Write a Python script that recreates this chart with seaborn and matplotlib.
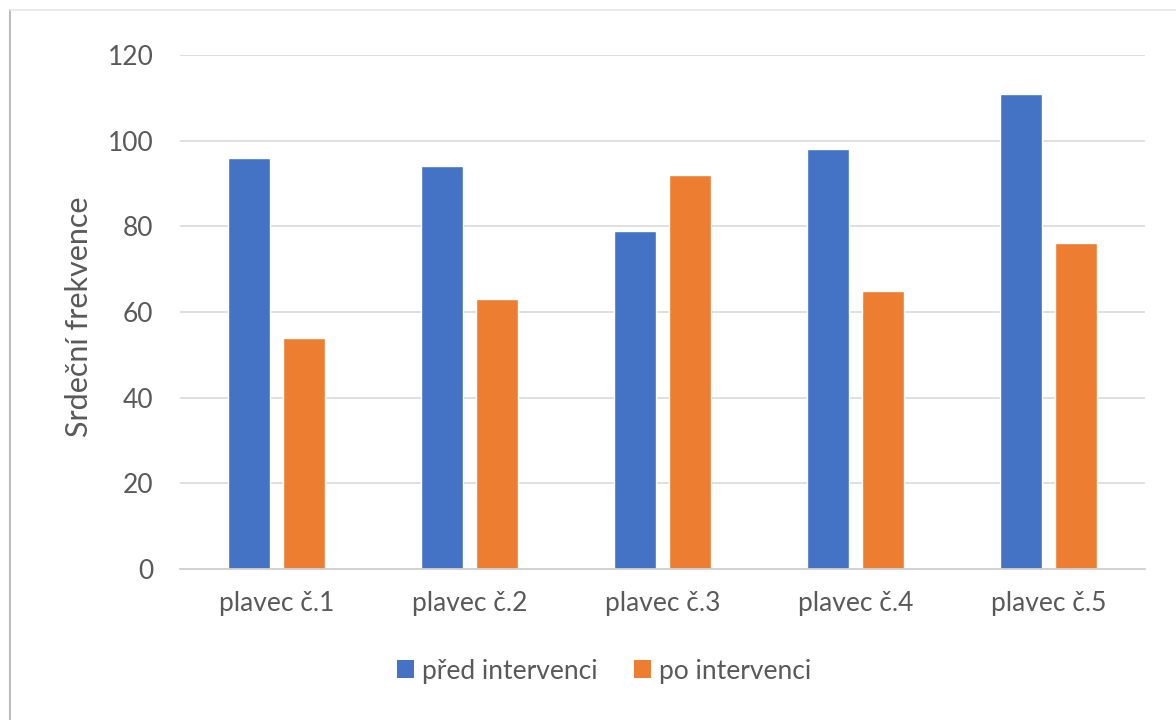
import matplotlib
matplotlib.use("Agg")
import matplotlib.pyplot as plt
import seaborn as sns
import pandas as pd
from matplotlib.lines import Line2D
from matplotlib.patches import Patch

categories = ["plavec č.1", "plavec č.2", "plavec č.3", "plavec č.4", "plavec č.5"]
series_names = ["před intervenci", "po intervenci"]
pred_values = [96, 94, 79, 98, 111]
po_values = [54, 63, 92, 65, 76]
y_ticks = [0, 20, 40, 60, 80, 100, 120]

df = pd.DataFrame({
    "cat": categories * 2,
    "series": [series_names[0]] * len(categories) + [series_names[1]] * len(categories),
    "value": pred_values + po_values,
})

sns.set_theme(style="white")
plt.rcParams["font.family"] = ["Lato", "DejaVu Sans"]

text_color = "#595959"
colors = ["#4472C4", "#ED7D31"]

fig = plt.figure(figsize=(11.76, 7.2), dpi=100)
ax = fig.add_axes([180 / 1176, 1 - 569 / 720, (1145 - 180) / 1176, (569 - 55) / 720])

sns.barplot(data=df, x="cat", y="value", hue="series", palette=colors,
            width=0.57, gap=0.235, ax=ax, legend=False, saturation=1)

ax.set_xlim(-0.5, 4.5)
ax.set_ylim(0, 120)
ax.set_yticks(y_ticks)
ax.set_yticklabels([str(t) for t in y_ticks])
ax.grid(axis="y", color="#d9d9d9", linewidth=1.2)
ax.set_axisbelow(True)
for s in ["top", "right", "left"]:
    ax.spines[s].set_visible(False)
ax.spines["bottom"].set_color("#d0d0d0")
ax.spines["bottom"].set_linewidth(1.3)
ax.tick_params(axis="both", length=0, labelsize=19, colors=text_color)
ax.tick_params(axis="y", pad=19)
ax.tick_params(axis="x", pad=16)
ax.set_xlabel("")
ax.set_ylabel("Srdeční frekvence", fontsize=22, color=text_color)
ax.yaxis.set_label_coords((93 - 180) / 965, 0.49)

handles = [Patch(facecolor=c, edgecolor="none") for c in colors]
fig.legend(handles, series_names, loc="center", bbox_to_anchor=(604 / 1176, 1 - 671 / 720),
           ncol=2, frameon=False, fontsize=19, labelcolor=text_color,
           handlelength=0.65, handleheight=0.65, handletextpad=0.32, columnspacing=1.35)

# screenshot frame
fig.add_artist(Line2D([10 / 1176, 10 / 1176], [0, 1 - 10 / 720], transform=fig.transFigure,
                      color="#bdbdbd", linewidth=1.5))
fig.add_artist(Line2D([10 / 1176, 1], [1 - 10 / 720, 1 - 10 / 720], transform=fig.transFigure,
                      color="#e6e6e6", linewidth=1.2))

fig.savefig("out.png", dpi=100)
